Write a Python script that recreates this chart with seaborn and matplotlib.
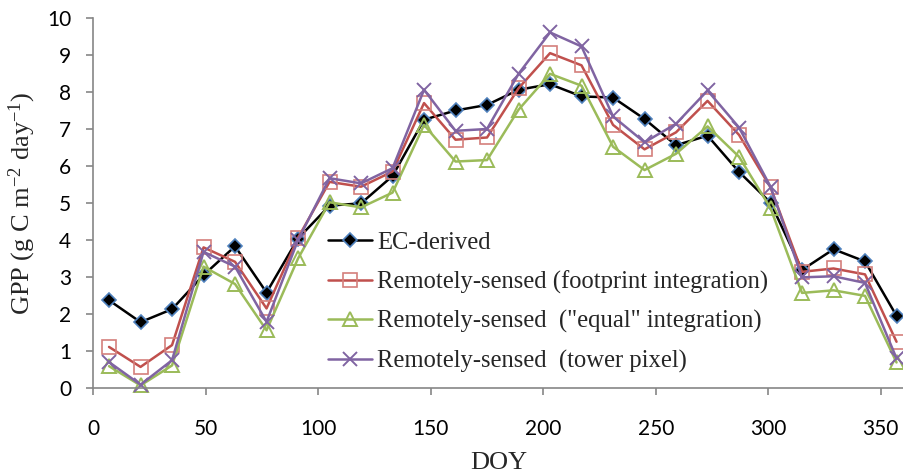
import matplotlib
matplotlib.use("Agg")
import matplotlib.pyplot as plt
import seaborn as sns
import pandas as pd
from matplotlib import font_manager

doy = [7, 21, 35, 49, 63, 77, 91, 105, 119, 133, 147, 161, 175, 189, 203,
       217, 231, 245, 259, 273, 287, 301, 315, 329, 343, 357]
ec_derived = [2.37, 1.78, 2.13, 3.05, 3.83, 2.58, 4.04, 4.93, 4.99, 5.73, 7.25,
              7.50, 7.65, 8.06, 8.21, 7.88, 7.85, 7.27, 6.56, 6.82, 5.84, 5.01,
              3.19, 3.75, 3.42, 1.95]
rs_footprint = [1.11, 0.57, 1.16, 3.80, 3.41, 2.15, 4.06, 5.57, 5.44, 5.85, 7.70,
                6.71, 6.77, 8.10, 9.05, 8.72, 7.11, 6.45, 6.91, 7.76, 6.84, 5.42,
                3.14, 3.23, 3.07, 1.25]
rs_equal = [0.59, 0.07, 0.61, 3.28, 2.81, 1.56, 3.50, 5.02, 4.88, 5.28, 7.11,
            6.12, 6.16, 7.52, 8.49, 8.17, 6.52, 5.89, 6.33, 7.07, 6.25, 4.86,
            2.57, 2.64, 2.49, 0.69]
rs_tower = [0.70, 0.09, 0.75, 3.68, 3.28, 1.79, 4.00, 5.67, 5.53, 5.94, 8.06,
            6.95, 7.00, 8.49, 9.61, 9.23, 7.34, 6.64, 7.14, 8.04, 7.04, 5.44,
            2.99, 3.02, 2.84, 0.80]

labels = ["EC-derived",
          "Remotely-sensed (footprint integration)",
          "Remotely-sensed  (\"equal\" integration)",
          "Remotely-sensed  (tower pixel)"]
x_ticks = [0, 50, 100, 150, 200, 250, 300, 350]
y_ticks = [0, 1, 2, 3, 4, 5, 6, 7, 8, 9, 10]

sns.set_style("white")
serif_font = "Liberation Serif"
plt.rcParams["mathtext.fontset"] = "custom"
plt.rcParams["mathtext.rm"] = serif_font
plt.rcParams["mathtext.it"] = serif_font + ":italic"

tick_prop = font_manager.FontProperties(family=["Lato", "DejaVu Sans"], size=15)

fig = plt.figure(figsize=(9.04, 4.73), dpi=100)
ax = fig.add_axes([0.1032, 0.1797, 0.896, 0.7823])

series = [ec_derived, rs_footprint, rs_equal, rs_tower]
styles = [
    dict(color="black", marker="D", markersize=7.5, markerfacecolor="black",
         markeredgecolor="#4F81BD", markeredgewidth=1.2),
    dict(color="#C0504D", marker="s", markersize=10, markerfacecolor="none",
         markeredgecolor="#D47F7C", markeredgewidth=1.2),
    dict(color="#9BBB59", marker="^", markersize=10, markerfacecolor="none",
         markeredgecolor="#9BBB59", markeredgewidth=1.4),
    dict(color="#8064A2", marker="x", markersize=10, markeredgecolor="#8064A2",
         markeredgewidth=1.4),
]
for vals, lab, st in zip(series, labels, styles):
    df = pd.DataFrame({"DOY": doy, "GPP": vals})
    sns.lineplot(data=df, x="DOY", y="GPP", ax=ax, label=lab, linewidth=1.8,
                 clip_on=False, **st)

ax.set_xlim(0, 360)
ax.set_ylim(0, 10)
ax.set_xticks(x_ticks)
ax.set_yticks(y_ticks)
ax.set_xticklabels([str(t) for t in x_ticks], fontproperties=tick_prop)
ax.set_yticklabels([str(t) for t in y_ticks], fontproperties=tick_prop)
ax.tick_params(axis="both", direction="out", length=5, width=1.2, color="#868686",
               colors="black", bottom=True, left=True)
ax.tick_params(axis="x", pad=17)
ax.tick_params(axis="y", pad=11)
for s in ["top", "right"]:
    ax.spines[s].set_visible(False)
for s in ["left", "bottom"]:
    ax.spines[s].set_color("#868686")
    ax.spines[s].set_linewidth(1.2)

ax.set_xlabel("DOY", fontsize=19, family=serif_font, labelpad=10)
ax.set_ylabel("GPP (g C m$^{\\mathregular{-2}}$ day$^{\\mathregular{-1}}$)", fontsize=19,
              family=serif_font, labelpad=6)

leg = ax.legend(loc="upper left", bbox_to_anchor=(0.29, 0.423), frameon=False,
                prop={"family": serif_font, "size": 17.7}, handlelength=1.8,
                handletextpad=0.2, labelspacing=0.67, borderaxespad=0, borderpad=0)

fig.savefig("out.png", dpi=100)
